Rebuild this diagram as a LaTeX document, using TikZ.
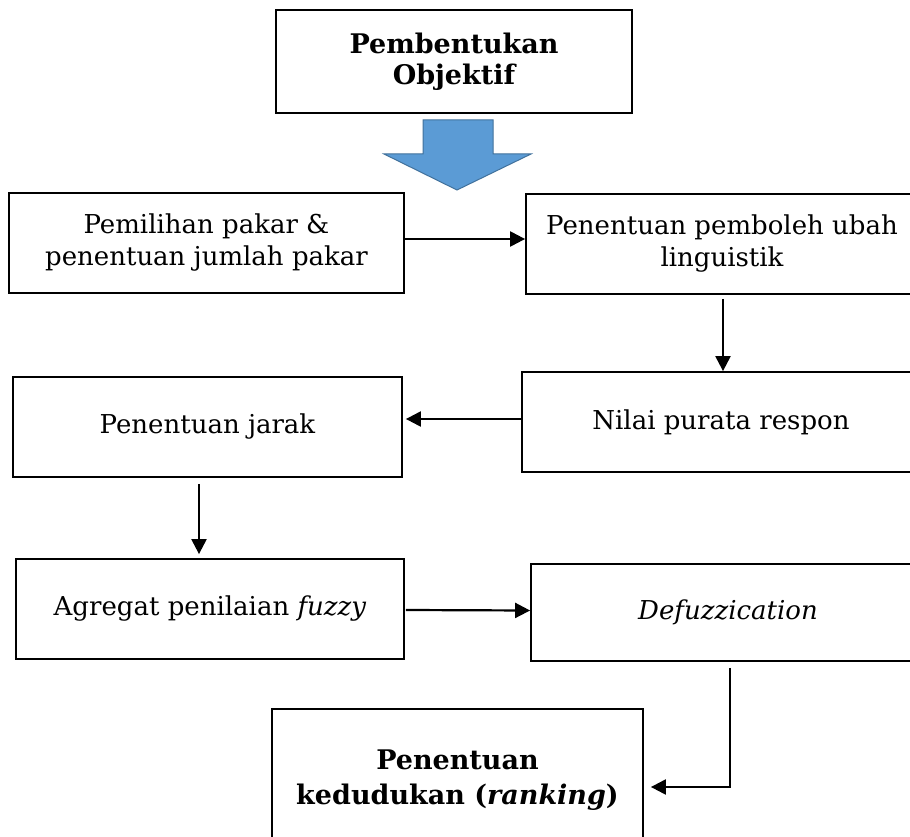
\documentclass[tikz,border=0pt]{standalone}
\usepackage{fontspec}
\setmainfont{DejaVu Serif}
\usetikzlibrary{calc,arrows.meta}
\definecolor{blockblue}{HTML}{5B9BD5}
\definecolor{blockedge}{HTML}{41719C}
\tikzset{
  box/.style={draw=black, line width=1.8pt, inner sep=0pt, align=center,
    font=\fontsize{26}{32}\selectfont},
  titlebox/.style={box, font=\fontsize{27}{31}\selectfont\bfseries},
  rankbox/.style={box, font=\fontsize{27}{35}\selectfont\bfseries},
  arr/.style={line width=2.2pt, -{Triangle[length=15pt,width=15pt]}},
}
\begin{document}
\begin{tikzpicture}[x=1pt,y=-1pt]
\useasboundingbox (0,0) rectangle (910,837);
% top box
\node[titlebox, minimum width=356pt, minimum height=103pt] (T) at (454,61.5) {Pembentukan\\Objektif};
% block arrow
\draw[fill=blockblue, draw=blockedge, line width=1pt]
  (423,120) -- (493,120) -- (493,154) -- (531,154) -- (457,190) -- (384,154) -- (423,154) -- cycle;
% row 1
\node[box, minimum width=395pt, minimum height=100pt] (A) at (206.5,243) {Pemilihan pakar \&\\penentuan jumlah pakar};
\node[box, minimum width=392pt, minimum height=100pt] (B) at (722,244) {Penentuan pemboleh ubah\\linguistik};
% row 2
\node[box, minimum width=389pt, minimum height=100pt] (D) at (207.5,427) {Penentuan jarak};
\node[box, minimum width=398pt, minimum height=100pt] (C) at (721,422) {Nilai purata respon};
% row 3
\node[box, minimum width=388pt, minimum height=100pt] (E) at (210,609) {Agregat penilaian \textit{fuzzy}};
\node[box, minimum width=394pt, minimum height=97pt] (F) at (728,612.5) {\textit{Defuzzication}};
% bottom box
\node[rankbox, minimum width=371pt, minimum height=142pt] (G) at (457.5,780) {Penentuan\\kedudukan (\textit{ranking})};
% connectors
\draw[arr] ($(A.east)+(0,-4)$) -- ($(B.west)+(0,-5)$);
\draw[arr] ($(B.south)+(1,4)$) -- ($(C.north)+(2,0)$);
\draw[arr] ($(C.west)+(0,-3)$) -- ($(D.east)+(3,-8)$);
\draw[arr] ($(D.south)+(-8.5,6)$) -- ($(E.north)+(-11,-4)$);
\draw[arr] ($(E.east)+(1,1)$) -- ($(F.west)+(0,-2)$);
\draw[arr] ($(F.south)+(2,6)$) |- ($(G.east)+(7,7)$);
\end{tikzpicture}
\end{document}
